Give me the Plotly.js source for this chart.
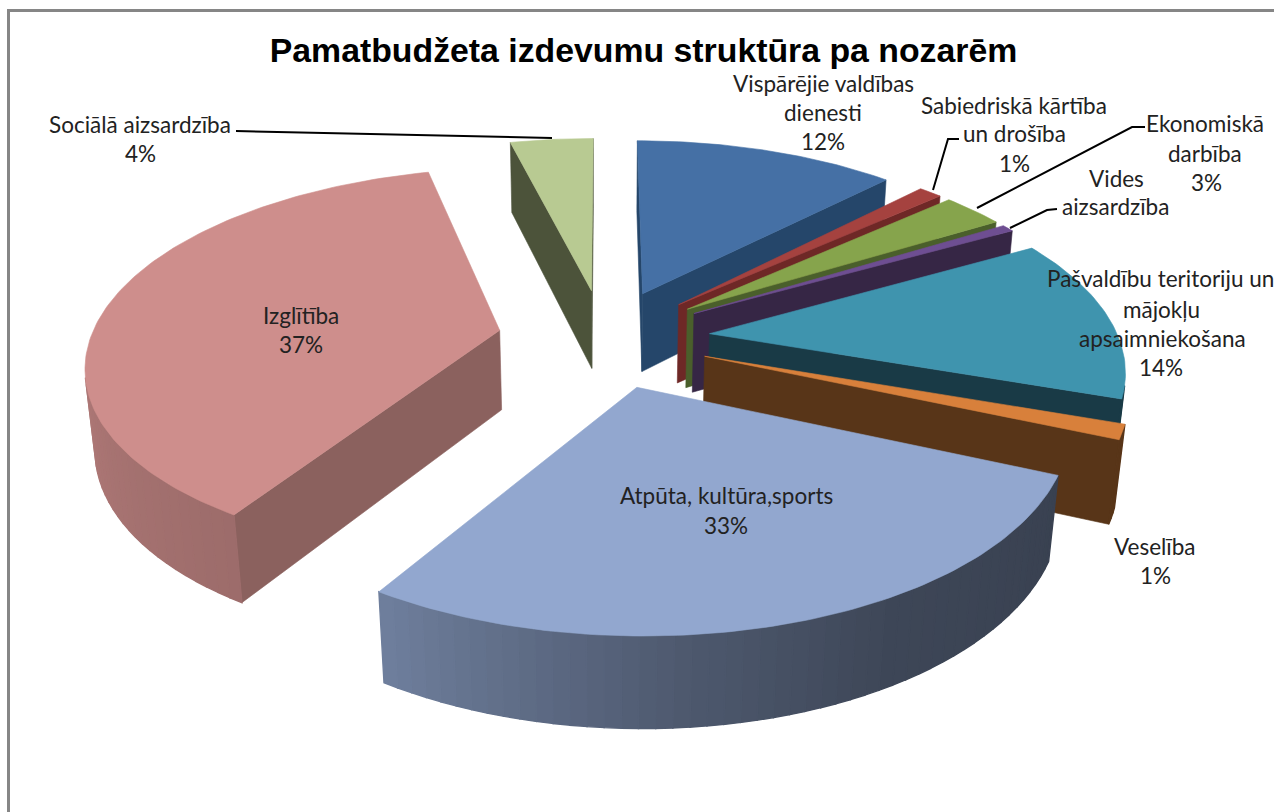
<!DOCTYPE html>
<html><head><meta charset="utf-8">
<script src="https://cdn.plot.ly/plotly-3.0.1.min.js"></script>
<style>html,body{margin:0;padding:0;background:#fff}#c{width:1274px;height:812px}</style>
</head><body><div id="c"></div>
<script>
// Data: sector shares as read from the drawn sectors, and the printed labels
const categories = ["Vispārējie valdības dienesti","Sabiedriskā kārtība un drošība","Ekonomiskā darbība","Vides aizsardzība","Pašvaldību teritoriju un mājokļu apsaimniekošana","Veselība","Atpūta, kultūra,sports","Izglītība","Sociālā aizsardzība"];
const shares = [12.3,1.1,2.9,0.6,13.4,1.2,27.4,37.2,3.9];
const percentLabels = ["12%","1%","3%","","14%","1%","33%","37%","4%"];
// Styles
const topColors = ["#4570a5","#a5423f","#86a44c","#6e4e92","#3f94ae","#d8803b","#92a7cf","#ce8e8c","#b8ca92"];
const cutColors = ["#25466a","#6e2826","#4a5f2b","#362645","#193a46","#583518","#3c4355","#8b615e","#4c533a"];
const drawOrder = [8,0,1,2,3,4,5,7,6];
// Label lines: [text, centre x, centre y]
const labelLines = [
 [["Vispārējie valdības",823,83],["dienesti",823,112]],
 [["Sabiedriskā kārtība",1014,105],["un drošība",1014,133]],
 [["Ekonomiskā",1205,123],["darbība",1205,153]],
 [["Vides",1116,178],["aizsardzība",1115,206]],
 [["Pašvaldību teritoriju un",1160,278],["mājokļu",1161,309],["apsaimniekošana",1162,338]],
 [["Veselība",1155,546]],
 [["Atpūta, kultūra,sports",726,495]],
 [["Izglītība",301,315]],
 [["Sociālā aizsardzība",140,124]]
];
const pctPos = [[823,141],[1014,163],[1206,182],null,[1161,367],[1155,575],[726,525],[301,344],[140,153]];

// Camera
const cx=604, cy=338, F=2245, D=5.49, tilt=27.8*Math.PI/180, h=0.225, pull=0.26;
const s=Math.sin(tilt), c=Math.cos(tilt);
const toRad=Math.PI/180;
function proj(X,Y,Z){
  const zv=D+Y*c-Z*s;
  return [cx+F*X/zv, cy-F*(Y*s+Z*c)/zv];
}
function wallFactor(a){
  const st=[[100,.38],[150,.42],[175,.53],[212,.76],[280,.88],[360,.88]];
  for(let i=1;i<st.length;i++){ if(a<=st[i][0]){
    const t=Math.max(0,(a-st[i-1][0])/(st[i][0]-st[i-1][0]));
    return st[i-1][1]+t*(st[i][1]-st[i-1][1]);}}
  return .88;
}
function shade(hex,f){
  const n=parseInt(hex.slice(1),16);
  return `rgb(${Math.round((n>>16)*f)},${Math.round(((n>>8)&255)*f)},${Math.round((n&255)*f)})`;
}
function poly(pts,color,w){
  const xs=pts.map(p=>p[0]), ys=pts.map(p=>p[1]);
  xs.push(xs[0]); ys.push(ys[0]);
  return {x:xs,y:ys,type:'scatter',mode:'lines',fill:'toself',fillcolor:color,
          line:{color:color,width:w||0.6},hoverinfo:'skip',showlegend:false};
}
const total=shares.reduce((a,b)=>a+b,0);
let cum=0; const spans=shares.map(v=>{const a0=cum/total*360;cum+=v;return [a0,cum/total*360];});
const traces=[];
drawOrder.forEach(i=>{
  const [a0,a1]=spans[i], m=(a0+a1)/2*toRad;
  const ax=pull*Math.sin(m), ay=pull*Math.cos(m);
  const rim=a=>[ax+Math.sin(a*toRad),ay+Math.cos(a*toRad)];
  const camY=-D*c;
  // cut faces
  [[a0,-90],[a1,90]].forEach(([a,off])=>{
    const nx=Math.sin((a+off)*toRad), ny=Math.cos((a+off)*toRad);
    if(nx*(0-ax)+ny*(camY-ay)>0){
      const r=rim(a);
      traces.push(poly([proj(ax,ay,0),proj(r[0],r[1],0),proj(r[0],r[1],-h),proj(ax,ay,-h)],cutColors[i]));
    }
  });
  // outer wall
  const n=Math.max(1,Math.ceil((a1-a0)/2));
  for(let k=0;k<n;k++){
    const b0=a0+(a1-a0)*k/n, b1=a0+(a1-a0)*(k+1)/n, bm=(b0+b1)/2;
    const p=rim(bm), nx=Math.sin(bm*toRad), ny=Math.cos(bm*toRad);
    if(nx*(0-p[0])+ny*(camY-p[1])>0){
      const q0=rim(b0), q1=rim(b1);
      const f=wallFactor(bm);
      const col = (i===6||i===7)? shade(topColors[i],f) : cutColors[i];
      traces.push(poly([proj(q0[0],q0[1],0),proj(q1[0],q1[1],0),proj(q1[0],q1[1],-h),proj(q0[0],q0[1],-h)],col,1.4));
    }
  }
  // top surface
  const topPts=[proj(ax,ay,0)];
  const kn=Math.max(2,Math.ceil(a1-a0));
  for(let k=0;k<=kn;k++){
    const r=rim(a0+(a1-a0)*k/kn);
    topPts.push(proj(r[0],r[1],0));
  }
  traces.push(poly(topPts,topColors[i]));
});

const font={family:'Lato, Carlito, "Noto Sans", sans-serif',size:22.5,color:'#222'};
const annotations=[];
function addText(t,x,y){annotations.push({text:t,x:x,y:y,xref:'x',yref:'y',showarrow:false,xanchor:'center',yanchor:'middle',font:font});}
labelLines.forEach(l=>l.forEach(e=>addText(e[0],e[1],e[2])));
percentLabels.forEach((t,i)=>{if(t&&pctPos[i])addText(t,pctPos[i][0],pctPos[i][1]);});

const leader=p=>({type:'path',path:p,xref:'x',yref:'y',line:{color:'#000',width:2}});
const shapes=[
 {type:'path',path:'M 8.5 812 L 8.5 10.5 L 1274 10.5',xref:'x',yref:'y',line:{color:'#868686',width:3}},
 leader('M 236 131 L 552 138'),
 leader('M 959 139 L 948 139 L 933 190'),
 leader('M 1145 127 L 1132 127 L 977 208'),
 leader('M 1057 209 L 1047 210 L 1010 228')
];
const layout={width:1274,height:812,margin:{l:0,r:0,t:0,b:0},paper_bgcolor:'#fff',plot_bgcolor:'#fff',
 showlegend:false,hovermode:false,
 title:{text:'Pamatbudžeta izdevumu struktūra pa nozarēm',x:643.5/1274,y:1-50/812,xref:'paper',yref:'paper',xanchor:'center',yanchor:'middle',
   font:{family:'"Liberation Sans", Arial, sans-serif',size:33.8,color:'#000',weight:700}},
 xaxis:{range:[0,1274],visible:false,fixedrange:true},
 yaxis:{range:[812,0],visible:false,fixedrange:true},
 annotations:annotations,shapes:shapes};
Plotly.newPlot('c',traces,layout,{displayModeBar:false,staticPlot:true});
</script></body></html>
